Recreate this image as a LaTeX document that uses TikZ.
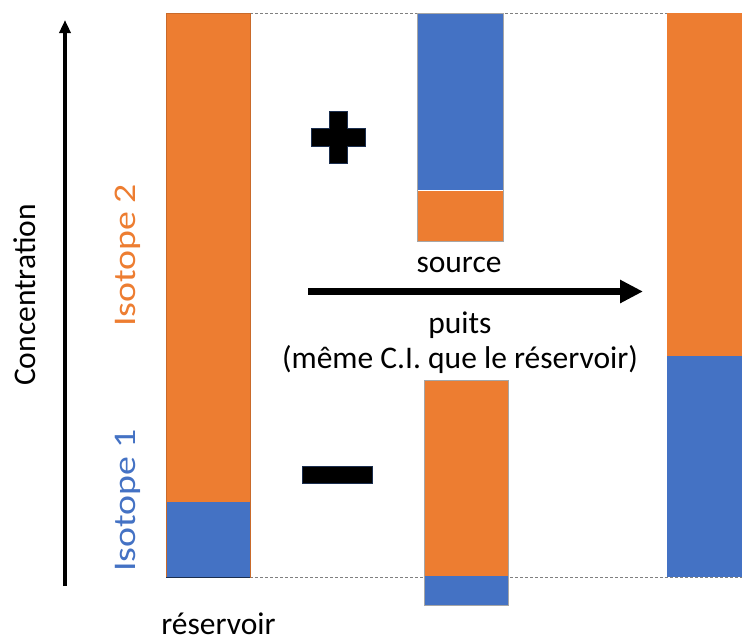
\documentclass[tikz,border=0pt]{standalone}
\usepackage{fontspec}
\setmainfont{Carlito}
\usetikzlibrary{arrows.meta}
\definecolor{orng}{HTML}{ED7D31}
\definecolor{blu}{HTML}{4472C4}
\begin{document}
\begin{tikzpicture}[x=1pt,y=-1pt,
  guide/.style={draw=gray,line width=0.7pt,dash pattern=on 3pt off 2pt},
  lbl/.style={font=\fontsize{31.5}{36}\selectfont,inner sep=0pt,anchor=base},
  sym/.style={fill=black,draw=blu!40!black,line width=0.6pt},
  barbox/.style={minimum width=#1,anchor=north west,inner sep=0pt,outer sep=0pt}]
\useasboundingbox (0,0) rectangle (742,641);
% dashed guides (behind bars)
\draw[guide] (250,13) -- (742,13);
\draw[guide] (250,577) -- (742,577);
% reservoir
\fill[orng] (166,13) rectangle (250,502);
\fill[blu] (166,502) rectangle (250,577);
\draw[orng!85!black,line width=0.5pt] (166,13) rectangle (250,577);
\draw[blu!40!black,line width=1pt] (166,577) -- (250,577);
\node[barbox=84pt,minimum height=564pt] (res) at (166,13) {};
% source
\fill[blu] (417,13) rectangle (503,190);
\fill[orng] (417,190) rectangle (503,241);
\draw[white,line width=0.8pt] (417,190) -- (503,190);
\draw[gray!70,line width=0.5pt] (417,13) rectangle (503,241);
\node[barbox=86pt,minimum height=228pt] (src) at (417,13) {};
% puits
\fill[orng] (424,380) rectangle (508,576);
\fill[blu] (424,576) rectangle (508,605);
\draw[gray!70,line width=0.5pt] (424,380) rectangle (508,605);
\node[barbox=84pt,minimum height=225pt] (pts) at (424,380) {};
% result
\fill[orng] (667,13) rectangle (742,356);
\fill[blu] (667,356) rectangle (742,577);
\node[barbox=75pt,minimum height=564pt] (out) at (667,13) {};
% plus and minus
\filldraw[sym] (329,111) -- (347,111) -- (347,128) -- (365,128) -- (365,146) -- (347,146) -- (347,163) -- (329,163) -- (329,146) -- (311,146) -- (311,128) -- (329,128) -- cycle;
\node[inner sep=0pt] (plus) at (338,137) {};
\filldraw[sym] (302,466) rectangle (372,483);
\node[inner sep=0pt] (minus) at (337,474) {};
% axis
\coordinate (ax0) at (65,586);
\coordinate (ax1) at (65,20);
\draw[line width=3.5pt,-{Triangle[length=13pt,width=11pt]}] (ax0) -- (ax1);
% main arrow
\coordinate (ar0) at (308,291.5);
\coordinate (ar1) at (643,291.5);
\draw[line width=7pt,-{Triangle[length=23pt,width=22pt]}] (ar0) -- (ar1);
% labels
\node[lbl,rotate=90] (conc) at (35,295) {Concentration};
\node[lbl,rotate=90,text=orng] (iso2) at (135,255.5) {\scalebox{1.2}[1]{Isotope 2}};
\node[lbl,rotate=90,text=blu] (iso1) at (135,500.5) {\scalebox{1.2}[1]{Isotope 1}};
\node[lbl] (lsrc) at (459,272) {source};
\node[lbl] (lpts) at (460,333) {puits};
\node[lbl] (lci) at (460,368) {(même C.I. que le réservoir)};
\node[lbl] (lres) at (218.5,634) {réservoir};
\end{tikzpicture}
\end{document}
